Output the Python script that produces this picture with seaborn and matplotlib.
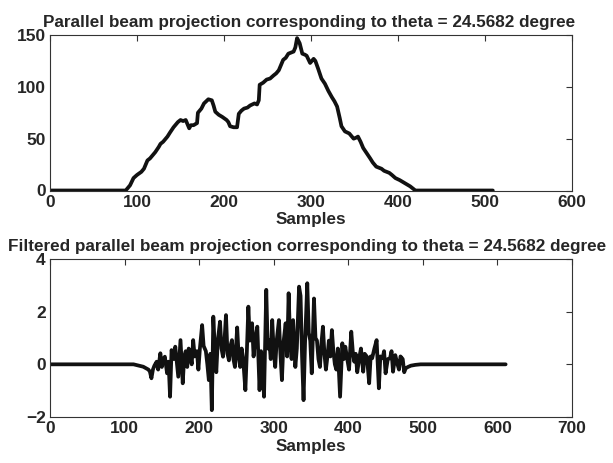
import numpy as np
import pandas as pd
import matplotlib
matplotlib.use("Agg")
import matplotlib.pyplot as plt
import seaborn as sns

# projection (sample index, value)
proj_samples = [0, 87, 92, 96, 100, 105, 108, 112, 115, 118, 121, 125, 127, 130, 135, 138,
                142, 145, 147, 150, 153, 156, 160, 162, 165, 169, 170, 174, 177, 182, 186,
                188, 190, 194, 198, 203, 205, 207, 211, 215, 217, 220, 223, 227, 230, 235,
                238, 240, 241, 245, 249, 253, 257, 260, 263, 266, 268, 271, 274, 277, 280,
                282, 284, 287, 290, 293, 295, 299, 303, 305, 308, 312, 316, 320, 324, 327,
                330, 333, 335, 339, 344, 349, 352, 354, 357, 360, 364, 368, 371, 375, 381,
                384, 387, 390, 393, 397, 402, 406, 410, 414, 420, 509]
proj_values = [0, 0, 5, 12, 15, 18, 21, 29, 31, 34, 37, 42, 45, 47, 52, 56,
               61, 64, 66, 68, 67, 68, 60, 63, 63, 65, 75, 79, 84, 88, 87,
               82, 76, 73, 71, 68, 66, 62, 61, 61, 74, 77, 79, 80, 82, 84,
               83, 87, 102, 104, 107, 108, 111, 113, 116, 122, 126, 128, 132, 133, 134,
               138, 147, 142, 132, 131, 130, 123, 127, 125, 118, 108, 103, 96, 90, 86,
               81, 70, 62, 57, 55, 50, 51, 52, 47, 41, 36, 31, 27, 23, 21,
               19, 18, 17, 15, 12, 10, 8, 6, 4, 0, 0]

# filtered projection
filt_samples = [0, 112, 125, 132, 134, 136, 138, 140, 143, 145, 148, 150, 152, 154, 157, 159,
                161, 163, 166, 168, 170, 172, 175, 178, 180, 182, 184, 186, 188, 190, 192,
                194, 197, 199, 201, 204, 206, 209, 211, 213, 215, 217, 219, 221, 223, 225,
                228, 230, 232, 234, 236, 238, 240, 242, 244, 246, 248, 251, 253, 255, 257,
                259, 262, 264, 266, 268, 271, 273, 275, 278, 281, 283, 285, 287, 290, 292,
                294, 296, 298, 300, 302, 304, 307, 309, 311, 313, 316, 318, 320, 322, 324,
                326, 329, 331, 334, 336, 338, 340, 342, 345, 347, 349, 351, 354, 356, 358,
                360, 362, 364, 366, 368, 370, 372, 374, 376, 378, 380, 382, 384, 386, 389,
                392, 394, 396, 398, 401, 404, 406, 408, 410, 412, 415, 417, 420, 422, 425,
                428, 430, 432, 435, 438, 441, 443, 446, 448, 450, 453, 456, 458, 460, 463,
                466, 468, 470, 473, 475, 477, 480, 484, 490, 497, 611]
filt_values = [0, 0, -0.09, -0.2, -0.28, -0.53, -0.2, -0.05, 0.1, -0.2, 0.42, -0.1, 0.2, 0.29, -0.34, 0.1,
               -1.23, 0.54, 0.2, 0.67, 0.1, -0.47, 0.92, -0.72, 0.3, 0.5, -0.1, 0.6, 0.4, 0.0, 0.92,
               0.3, 0.5, -0.2, 0.6, 1.49, 0.7, 0.5, 0.0, -0.6, 0.4, -1.74, 1.81, 0.6, -0.3, 0.9,
               1.62, 0.6, 0.29, 0.9, 1.87, 0.4, 0.15, 0.7, 0.92, 0.2, -0.1, 1.4, 0.3, -0.1, 0.6,
               0.2, -0.98, 0.5, 2.19, 0.9, 1.56, 0.3, 0.92, 1.43, -0.98, 0.5, 0.1, -1.23, 2.83, 0.6,
               0.92, 0.2, 1.68, 0.5, -0.1, 0.9, 1.68, 0.4, -0.6, 0.8, 1.56, 0.3, 2.7, 0.92, 0.2,
               1.68, -0.1, 0.6, 2.95, 2.6, 0.3, -1.36, 0.8, 3.08, 1.2, 0.9, -0.34, 2.5, 1.0, 0.9,
               0.2, -0.1, 0.8, 1.43, 0.4, -0.2, 0.29, 0.9, 0.3, 1.3, 0.5, 0.0, -0.2, 0.6, -1.23,
               0.8, 0.2, 0.67, 0.3, -0.2, 1.24, 0.5, 0.1, 0.4, -0.3, 0.29, 0.6, -0.28, 0.4, 0.29,
               -0.72, 0.3, 0.23, 0.6, 0.92, -0.91, 0.3, 0.23, 0.5, -0.34, 0.2, 0.23, 0.5, -0.28, 0.35,
               0.0, -0.2, 0.3, 0.2, -0.3, -0.15, -0.1, -0.05, -0.02, 0, 0]

title_top = "Parallel beam projection corresponding to theta = 24.5682 degree"
title_bot = "Filtered parallel beam projection corresponding to theta = 24.5682 degree"

sns.set_style("white")
plt.rcParams['font.family'] = ['Liberation Sans', 'DejaVu Sans']
plt.rcParams['font.weight'] = 'bold'

fig = plt.figure(figsize=(6.13, 4.63), dpi=100)
ax1 = fig.add_axes([50/613, 1-190.5/463, 522/613, 155.5/463])
ax2 = fig.add_axes([50/613, 1-417/463, 522/613, 158/463])

top = pd.DataFrame({"Samples": proj_samples, "value": proj_values})
bot = pd.DataFrame({"Samples": filt_samples, "value": filt_values})

sns.lineplot(data=top, x="Samples", y="value", ax=ax1, color="#111111", linewidth=2.7)
sns.lineplot(data=bot, x="Samples", y="value", ax=ax2, color="#111111", linewidth=2.7)

ax1.set_xlim(0, 600)
ax1.set_ylim(0, 150)
ax1.set_xticks(range(0, 601, 100))
ax1.set_yticks([0, 50, 100, 150])
ax2.set_xlim(0, 700)
ax2.set_ylim(-2, 4)
ax2.set_xticks(range(0, 701, 100))
ax2.set_yticks([-2, 0, 2, 4])

for ax, t in [(ax1, title_top), (ax2, title_bot)]:
    ax.set_title(t, fontsize=12.35, fontweight='bold', pad=6)
    ax.set_xlabel("Samples", fontsize=12.3, fontweight='bold', labelpad=2)
    ax.set_ylabel("")
    ax.tick_params(direction='in', top=True, right=True, length=4, width=0.8,
                   labelsize=12.5, pad=3, color='#333333')
    for lbl in ax.get_xticklabels() + ax.get_yticklabels():
        lbl.set_fontweight('bold')
    for sp in ax.spines.values():
        sp.set_color('#333333')
        sp.set_linewidth(0.8)

ax1.title.set_x(0.497)
ax2.title.set_x(0.4915)

fig.savefig("out.png", dpi=100)
